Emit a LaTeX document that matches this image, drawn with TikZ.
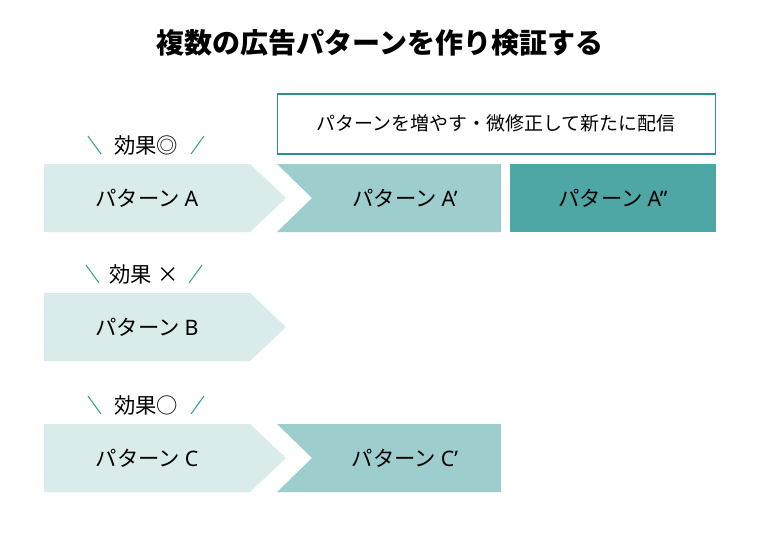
\documentclass[tikz,border=0pt]{standalone}
\usepackage{fontspec}
\setmainfont{Noto Sans CJK JP}
\newfontfamily\lat{Noto Sans}
\usetikzlibrary{positioning}
\definecolor{pale}{HTML}{D9EBEB}
\definecolor{mid}{HTML}{9DCDCC}
\definecolor{deep}{HTML}{4EA6A5}
\definecolor{frame}{HTML}{2B8F8C}
\definecolor{tickc}{HTML}{3A9E9A}
\newcommand{\tipbox}[2]{% #1 = top y, #2 = colour
  \fill[#2] (44,#1) -- ++(206,0) -- ++(36,34) -- ++(-36,34) -- ++(-206,0) -- cycle;}
\newcommand{\notchbox}[2]{% #1 = top y, #2 = colour
  \fill[#2] (277,#1) -- ++(224,0) -- ++(0,68) -- ++(-224,0) -- ++(35,-34) -- cycle;}

\begin{document}
\begin{tikzpicture}[
  x=0.75pt, y=-0.75pt,
  pat/.style={font=\fontsize{16}{19}\selectfont, inner sep=0pt},
  eff/.style={font=\fontsize{16}{19}\selectfont, inner sep=0pt},
  tick/.style={draw=tickc, line width=0.8pt},
]
  \useasboundingbox (0,0) rectangle (760,533);
  \node[font=\bfseries\fontsize{21}{25}\selectfont] (title) at (380,43) {複数の広告パターンを作り検証する};

  % ---------------- note box
  \draw[frame, line width=0.9pt] (277.5,94) rectangle (715.5,154);
  \node[font=\fontsize{14.2}{17}\selectfont] (note) at (496,123) {パターンを増やす・微修正して新たに配信};

  % ---------------- row A
  \tipbox{164}{pale}
  \notchbox{164}{mid}
  \fill[deep] (510,164) rectangle (716,232);
  \node[pat] (pa) at (147,198) {パターン {\lat A}};
  \node[pat] (pa1) at (405,198) {パターン {\lat A’}};
  \node[pat] (pa2) at (613,198) {パターン {\lat A”}};
  \node[eff] (ea) at (146,145) {効果◎};

  % ---------------- row B
  \tipbox{293}{pale}
  \node[pat] (pb) at (147,327) {パターン {\lat B}};
  \node[eff] (eb) at (144,274) {効果 ×};

  % ---------------- row C
  \tipbox{424}{pale}
  \notchbox{424}{mid}
  \node[pat] (pc) at (147,458) {パターン {\lat C}};
  \node[pat] (pc1) at (405,458) {パターン {\lat C’}};
  \node[eff] (ec) at (146,405) {効果○};

  \foreach \e in {ea, eb, ec} {
    \draw[tick] ([shift={(-58,-9)}]\e.center) -- ++(13,18);
    \draw[tick] ([shift={(58,-9)}]\e.center) -- ++(-13,18);
  }
\end{tikzpicture}
\end{document}
